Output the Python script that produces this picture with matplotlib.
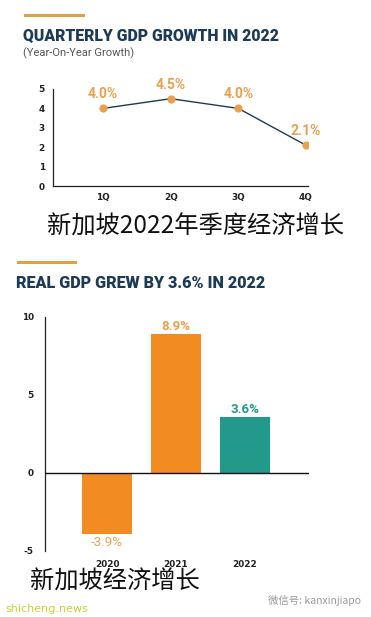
import matplotlib
matplotlib.use("Agg")
import matplotlib.pyplot as plt
from matplotlib.patches import Rectangle

plt.rcParams["axes.unicode_minus"] = False

# ---- data ----
quarters = ["1Q", "2Q", "3Q", "4Q"]
q_growth = [4.0, 4.5, 4.0, 2.1]
q_yticks = [0, 1, 2, 3, 4, 5]

years = ["2020", "2021", "2022"]
y_growth = [-3.9, 8.9, 3.6]
y_yticks = [-5, 0, 5, 10]

title1 = "QUARTERLY GDP GROWTH IN 2022"
subtitle1 = "(Year-On-Year Growth)"
cn1 = "新加坡2022年季度经济增长"
title2 = "REAL GDP GREW BY 3.6% IN 2022"
cn2 = "新加坡经济增长"

NAVY = "#1d3a57"
ORANGE = "#f28c22"
LABEL_OR = "#eaa04e"
TEAL = "#22998b"

W, H = 371, 617
fig = plt.figure(figsize=(W / 100, H / 100), dpi=100)
fig.patch.set_facecolor("white")

def fx(px):
    return px / W

def fy(py):
    return 1 - py / H

# decorative bars
fig.add_artist(Rectangle((fx(24), fy(17)), fx(61), 3 / H, color="#e3a03f",
                         transform=fig.transFigure, lw=0))
fig.add_artist(Rectangle((fx(17), fy(264)), fx(60), 3 / H, color="#e3a03f",
                         transform=fig.transFigure, lw=0))

fig.text(fx(23), fy(36), title1, fontsize=11.3, fontweight="black", color=NAVY,
         va="center", ha="left", family="Roboto")
fig.text(fx(23), fy(53), subtitle1, fontsize=8.0, color="#555555",
         va="center", ha="left", family="Roboto")
fig.text(fx(47), fy(227), cn1, fontsize=17.5, color="#111111",
         va="center", ha="left", family=["Noto Sans CJK SC", "DejaVu Sans"])
fig.text(fx(16), fy(283), title2, fontsize=11.6, fontweight="black", color=NAVY,
         va="center", ha="left", family="Roboto")
fig.text(fx(30), fy(582), cn2, fontsize=17.5, color="#111111",
         va="center", ha="left", family=["Noto Sans CJK SC", "DejaVu Sans"])
fig.text(fx(5), fy(609), "shicheng.news", fontsize=8.0, color="#c9cf3a",
         va="center", ha="left", family="DejaVu Sans")
fig.text(fx(268), fy(600), "微信号: kanxinjiapo", fontsize=7.5, color="#9a9a9a",
         va="center", ha="left", family=["Noto Sans CJK SC", "DejaVu Sans"])

# ---- line chart ----
ax1 = fig.add_axes([fx(53), fy(186), (308 - 53) / W, (186 - 89) / H])
xs = list(range(len(quarters)))
ax1.plot(xs, q_growth, color=NAVY, lw=1.0, zorder=2)
ax1.scatter(xs, q_growth, s=24, color=LABEL_OR, zorder=3)
for x, v in zip(xs, q_growth):
    ax1.annotate(f"{v:.1f}%", (x, v), xytext=(0, 5), textcoords="offset points",
                 ha="center", va="bottom", fontsize=10, color=LABEL_OR,
                 fontweight="bold", family="Roboto", clip_on=False)
ax1.set_xlim(-0.74, 3.03)
ax1.set_ylim(0, 5)
ax1.set_xticks(xs)
ax1.set_xticklabels(quarters)
ax1.set_yticks(q_yticks)
for s in ["top", "right"]:
    ax1.spines[s].set_visible(False)
for s in ["left", "bottom"]:
    ax1.spines[s].set_color("#222222")
    ax1.spines[s].set_linewidth(0.9)
ax1.tick_params(length=0, labelsize=6.4, colors="#222222", pad=5)
ax1.tick_params(axis="y", pad=6)
for lab in ax1.get_xticklabels() + ax1.get_yticklabels():
    lab.set_fontweight("bold")
ax1.patch.set_alpha(0)

# ---- bar chart ----
ax2 = fig.add_axes([fx(45), fy(550.7), (309 - 45) / W, (550.7 - 317) / H])
bx = list(range(len(years)))
colors = [ORANGE, ORANGE, TEAL]
ax2.bar(bx, y_growth, width=0.725, color=colors, zorder=2)
lab_colors = [LABEL_OR, LABEL_OR, TEAL]
for x, v, c in zip(bx, y_growth, lab_colors):
    if v >= 0:
        ax2.annotate(f"{v:.1f}%", (x, v), xytext=(0, 0.5), textcoords="offset points",
                     ha="center", va="bottom", fontsize=9.6, color=c,
                     fontweight="bold", family="Roboto")
    else:
        ax2.annotate(f"{v:.1f}%", (x, v), xytext=(0, -2), textcoords="offset points",
                     ha="center", va="top", fontsize=9.6, color=c,
                     family="Roboto")
ax2.axhline(0, color="#111111", lw=1.0, zorder=3)
ax2.set_xlim(-0.9, 2.93)
ax2.set_ylim(-5, 10)
ax2.set_xticks(bx)
ax2.set_xticklabels(years)
ax2.set_yticks(y_yticks)
for s in ["top", "right", "bottom"]:
    ax2.spines[s].set_visible(False)
ax2.spines["left"].set_color("#222222")
ax2.spines["left"].set_linewidth(0.9)
ax2.tick_params(length=0, labelsize=6.4, colors="#222222")
ax2.tick_params(axis="x", pad=7)
ax2.tick_params(axis="y", pad=8)
for lab in ax2.get_xticklabels() + ax2.get_yticklabels():
    lab.set_fontweight("bold")
ax2.patch.set_alpha(0)

fig.savefig("out.png", dpi=100, facecolor="white")
